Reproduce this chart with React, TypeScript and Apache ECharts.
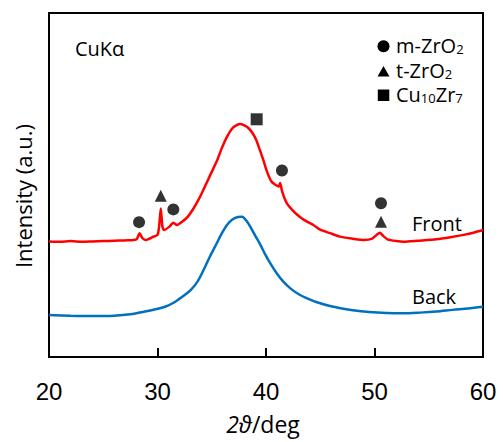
import React, { useEffect, useRef } from "react";
import * as echarts from "echarts";

// 2θ (deg), intensity (a.u., arbitrary 0–100 scale)
const frontData: [number, number][] = [
  [20, 33.6], [21, 33.5], [22, 33.7], [23, 33.5], [24, 33.6], [25, 33.7], [26, 33.8], [27, 33.9],
  [27.8, 34.0], [28.1, 34.3], [28.35, 36.0], [28.6, 34.6], [28.9, 34.0], [29.5, 34.8], [30.0, 35.5],
  [30.15, 38.0], [30.3, 43.2], [30.45, 38.0], [30.6, 36.9], [31.1, 37.9], [31.45, 39.0], [31.8, 38.4],
  [32.3, 39.4], [32.8, 40.8], [33.3, 43.1], [33.76, 45.6], [34.2, 48.4], [34.8, 52.5], [35.45, 56.8],
  [35.9, 60.5], [36.4, 64.0], [36.9, 66.5], [37.3, 67.4], [37.6, 67.7], [38.0, 67.3], [38.4, 66.5],
  [38.8, 64.9], [39.1, 63.1], [39.4, 60.5], [39.75, 57.3], [40.1, 53.8], [40.5, 51.0], [40.9, 50.0],
  [41.2, 49.6], [41.3, 50.6], [41.5, 48.0], [41.9, 44.8], [42.5, 42.5], [43.1, 40.8], [43.7, 39.5],
  [44.4, 38.3], [45.0, 37.0], [45.9, 36.0], [46.8, 35.0], [48.0, 34.4], [49.0, 34.0], [49.8, 34.4],
  [50.2, 35.5], [50.5, 36.1], [50.8, 35.2], [51.2, 34.2], [52.0, 33.7], [52.7, 33.5], [54.0, 33.8],
  [55.7, 34.2], [57.0, 34.8], [58.2, 35.5], [59.2, 36.2], [60, 36.9],
];

const backData: [number, number][] = [
  [20, 12.2], [22, 12.0], [24, 11.9], [26, 12.0], [27.5, 12.4], [28.85, 13.2], [30.0, 14.0],
  [30.7, 14.6], [31.6, 16.0], [32.5, 18.0], [33.1, 19.6], [33.7, 22.0], [34.2, 25.0], [34.8, 29.0],
  [35.45, 33.0], [35.9, 35.8], [36.4, 38.4], [36.9, 40.0], [37.4, 40.7], [37.8, 40.8], [38.2, 39.6],
  [38.6, 37.6], [39.0, 35.3], [39.45, 32.8], [39.9, 30.0], [40.4, 27.2], [41.0, 24.3], [41.6, 21.9],
  [42.3, 19.8], [43.1, 18.1], [43.9, 16.9], [44.7, 15.9], [45.9, 14.8], [47.0, 14.1], [48.0, 13.6],
  [49.5, 13.1], [51.1, 12.8], [52.5, 12.7], [54.2, 12.9], [55.7, 13.2], [57.2, 13.7], [58.6, 14.1],
  [60, 14.6],
];

// phase markers (2θ, marker height)
const mZrO2Marks: [number, number][] = [[28.3, 39.2], [31.46, 42.9], [41.47, 54.2], [50.6, 44.7]];
const tZrO2Marks: [number, number][] = [[30.3, 46.9], [50.6, 39.3]];
const cuZrMarks: [number, number][] = [[39.14, 69.1]];

const xTicks = [20, 30, 40, 50, 60];

const TEXT_FONT = "'Open Sans', sans-serif";

export default function App() {
  const ref = useRef<HTMLDivElement>(null);
  useEffect(() => {
    if (!ref.current) return;
    const chart = echarts.init(ref.current, null, { renderer: "svg" });
    const subRich = {
      m: { fontSize: 20, lineHeight: 20, fontFamily: TEXT_FONT, color: "#000", verticalAlign: "bottom" as const },
      s: { fontSize: 13, lineHeight: 5, fontFamily: TEXT_FONT, color: "#000", verticalAlign: "bottom" as const },
    };
    chart.setOption({
      animation: false,
      backgroundColor: "#fff",
      grid: {
        left: 49, right: 20, top: 13, bottom: 85,
        show: true, borderColor: "#000", borderWidth: 2,
      },
      xAxis: {
        type: "value",
        min: xTicks[0],
        max: xTicks[xTicks.length - 1],
        interval: 10,
        axisLine: { show: true, lineStyle: { color: "#000", width: 2 } },
        axisTick: { show: true, inside: true, length: 9, lineStyle: { color: "#000", width: 2 } },
        splitLine: { show: false },
        axisLabel: {
          color: "#000", fontSize: 24, fontFamily: "'Liberation Sans', Arial, sans-serif", margin: 22,
        },
      },
      yAxis: {
        type: "value",
        min: 0,
        max: 100,
        axisLine: { show: true, lineStyle: { color: "#000", width: 2 } },
        axisTick: { show: false },
        axisLabel: { show: false },
        splitLine: { show: false },
      },
      series: [
        {
          type: "line", name: "Back", data: backData, showSymbol: false, smooth: 0.3,
          lineStyle: { color: "#0070C0", width: 2.5 }, z: 2,
        },
        {
          type: "line", name: "Front", data: frontData, showSymbol: false, smooth: 0.2,
          lineStyle: { color: "#FF0000", width: 2.5 }, z: 3,
        },
        {
          type: "scatter", name: "m-ZrO2", data: mZrO2Marks, symbol: "circle", symbolSize: 12,
          itemStyle: { color: "#000" }, z: 4,
        },
        {
          type: "scatter", name: "t-ZrO2", data: tZrO2Marks, symbol: "triangle", symbolSize: 12,
          itemStyle: { color: "#000" }, z: 4,
        },
        {
          type: "scatter", name: "Cu10Zr7", data: cuZrMarks, symbol: "rect", symbolSize: 12,
          itemStyle: { color: "#000" }, z: 4,
        },
      ],
      graphic: [
        {
          type: "text", left: 75, top: 38,
          style: { text: "CuKα", fontSize: 20, fontFamily: TEXT_FONT, fill: "#000" },
        },
        { type: "circle", shape: { cx: 383.5, cy: 46.2, r: 6 }, style: { fill: "#000" } },
        {
          type: "polygon", shape: { points: [[383.5, 66], [389.5, 76.6], [377.5, 76.6]] },
          style: { fill: "#000" },
        },
        { type: "rect", shape: { x: 377.8, y: 89.5, width: 11.5, height: 11.5 }, style: { fill: "#000" } },
        {
          type: "text", x: 396, y: 45.5,
          style: {
            text: "{m|m-ZrO}{s|2}", verticalAlign: "middle", align: "left", rich: subRich,
          },
        },
        {
          type: "text", x: 396, y: 70,
          style: {
            text: "{m|t-ZrO}{s|2}", verticalAlign: "middle", align: "left", rich: subRich,
          },
        },
        {
          type: "text", x: 396, y: 94.5,
          style: {
            text: "{m|Cu}{s|10}{m|Zr}{s|7}", verticalAlign: "middle", align: "left", rich: subRich,
          },
        },
        {
          type: "text", x: 412, y: 223,
          style: { text: "Front", fontSize: 20, fontFamily: TEXT_FONT, fill: "#000", verticalAlign: "middle" },
        },
        {
          type: "text", x: 412, y: 296,
          style: { text: "Back", fontSize: 20, fontFamily: TEXT_FONT, fill: "#000", verticalAlign: "middle" },
        },
        {
          type: "text", x: 263, y: 424,
          style: {
            text: "{i|2ϑ}{n|/deg}", align: "center", verticalAlign: "middle",
            rich: {
              i: { fontSize: 23, fontFamily: TEXT_FONT, fontStyle: "italic", color: "#000" },
              n: { fontSize: 23, fontFamily: TEXT_FONT, color: "#000" },
            },
          },
        },
        {
          type: "text", x: 23, y: 196, rotation: Math.PI / 2,
          style: {
            text: "Intensity (a.u.)", fontSize: 22, fontFamily: TEXT_FONT, fill: "#000",
            align: "center", verticalAlign: "middle",
          },
        },
      ],
    });
    return () => chart.dispose();
  }, []);
  return (
    <div
      ref={ref}
      style={{ position: "absolute", left: 0, top: 0, width: 503, height: 442 }}
    />
  );
}
